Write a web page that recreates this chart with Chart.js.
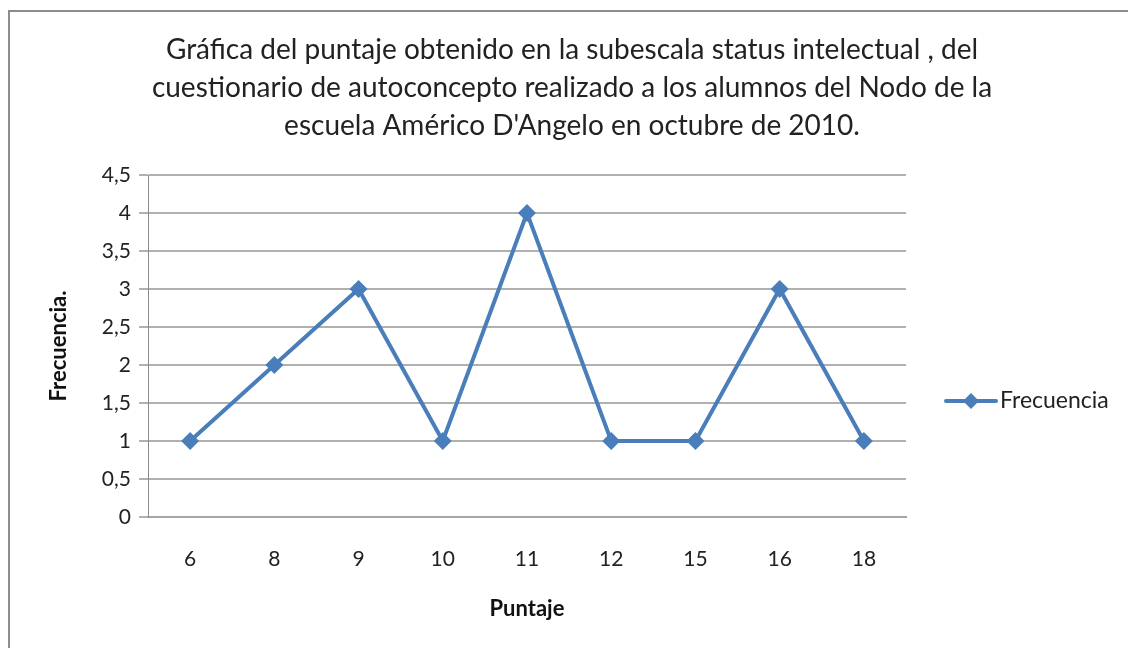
<!DOCTYPE html>
<html>
<head>
<meta charset="utf-8">
<script src="https://cdn.jsdelivr.net/npm/chart.js@4"></script>
<style>
  body { margin: 0; background: #fff; overflow: hidden; }
  #frame { position: absolute; left: 8px; top: 10px; width: 1200px; height: 700px; border: 2px solid #8c8c8c; }
  #chart { position: absolute; left: 0; top: 0; }
</style>
</head>
<body>
<div id="frame"></div>
<canvas id="chart" width="1128" height="648"></canvas>
<script>
// Chart data
const titleLines = [
    'Gráfica del puntaje obtenido en la subescala status intelectual , del',
    'cuestionario de autoconcepto realizado a los alumnos del Nodo de la',
    "escuela Américo D'Angelo en octubre de 2010."
];
const puntajes = ['6', '8', '9', '10', '11', '12', '15', '16', '18'];
const frecuencia = [1, 2, 3, 1, 4, 1, 1, 3, 1];
const seriesName = 'Frecuencia';
const yMax = 4.5;
const yStep = 0.5;

const FONT = 'Lato, "Open Sans", sans-serif';
const lineBlue = '#4a7ebb';

// Title and legend drawn the way Excel places them
const excelDecor = {
    id: 'excelDecor',
    afterDraw(chart) {
        const c = chart.ctx;
        const area = chart.chartArea;
        c.save();
        // title, centred over the whole frame
        c.fillStyle = '#222';
        c.font = '28px ' + FONT;
        c.textAlign = 'center';
        c.textBaseline = 'middle';
        titleLines.forEach((t, i) => c.fillText(t, 572, 50 + i * 38));

        // legend
        const x = area.right + 38;
        const y = chart.scales.y.getPixelForValue(1.5) - 2;
        c.strokeStyle = lineBlue;
        c.lineWidth = 4;
        c.lineCap = 'round';
        c.beginPath();
        c.moveTo(x + 2, y);
        c.lineTo(x + 52, y);
        c.stroke();
        c.fillStyle = lineBlue;
        c.beginPath();
        c.moveTo(x + 27, y - 8);
        c.lineTo(x + 35, y);
        c.lineTo(x + 27, y + 8);
        c.lineTo(x + 19, y);
        c.closePath();
        c.fill();
        c.fillStyle = '#222';
        c.font = '23px ' + FONT;
        c.textAlign = 'left';
        c.fillText(chart.data.datasets[0].label, x + 56, y);
        c.restore();
    }
};

const ctx = document.getElementById('chart').getContext('2d');
const chart = new Chart(ctx, {
    type: 'line',
    data: {
        labels: puntajes,
        datasets: [{
            label: seriesName,
            data: frecuencia,
            borderColor: lineBlue,
            backgroundColor: lineBlue,
            borderWidth: 4,
            tension: 0,
            pointStyle: 'rectRot',
            pointRadius: 9,
            pointHoverRadius: 9,
            pointBorderWidth: 0
        }]
    },
    options: {
        responsive: false,
        animation: false,
        layout: { padding: { left: 0, right: 222, top: 175, bottom: 0 } },
        plugins: {
            legend: { display: false },
            tooltip: { enabled: false },
            title: { display: false }
        },
        scales: {
            x: {
                offset: true,
                grid: { display: false, drawTicks: false },
                border: { display: true, color: '#a6a6a6', width: 2 },
                ticks: { color: '#222', font: { family: FONT, size: 21 }, padding: 30, maxRotation: 0 },
                title: {
                    display: true, text: 'Puntaje', color: '#111',
                    font: { family: FONT, size: 22, weight: 'bold' },
                    padding: { top: 24, bottom: 26 }
                },
                afterFit(scale) { scale.height = 131; }
            },
            y: {
                min: 0,
                max: yMax,
                grid: { color: '#b0b0b0', lineWidth: 2, tickLength: 9 },
                border: { display: true, color: '#8c8c8c', width: 1 },
                ticks: {
                    stepSize: yStep,
                    color: '#222',
                    font: { family: FONT, size: 21 },
                    padding: 8,
                    callback: v => String(v).replace('.', ',')
                },
                title: {
                    display: true, text: 'Frecuencia.', color: '#111',
                    font: { family: FONT, size: 22, weight: 'bold' },
                    padding: { top: 46, bottom: 0 }
                },
                afterFit(scale) { scale.width = 148; }
            }
        }
    },
    plugins: [excelDecor]
});
</script>
</body>
</html>
